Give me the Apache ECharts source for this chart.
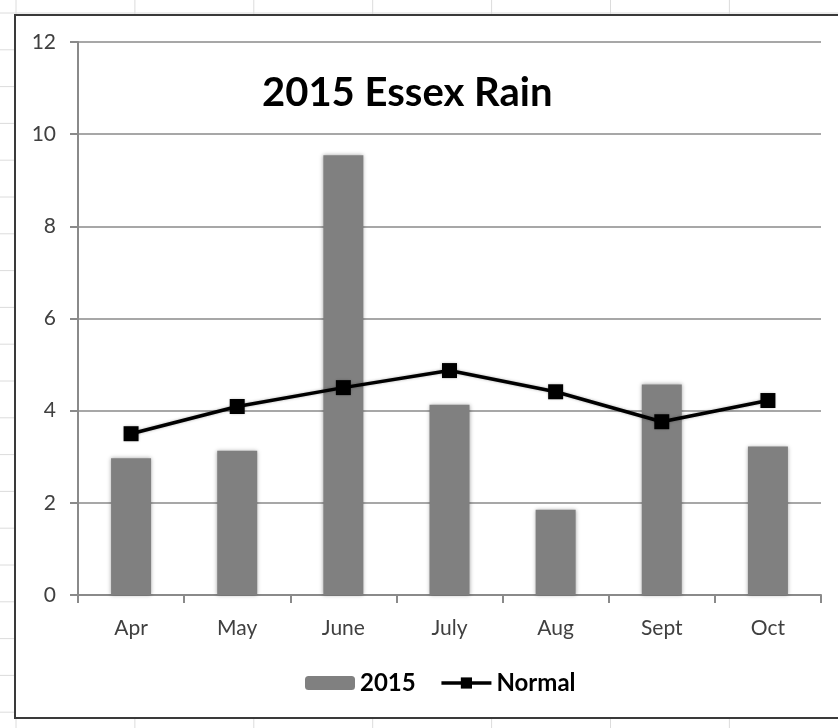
<!DOCTYPE html>
<html>
<head>
<meta charset="utf-8">
<style>
  html, body { margin: 0; padding: 0; background: #fff; }
  #chart { width: 838px; height: 728px; }
</style>
<script src="https://cdn.jsdelivr.net/npm/echarts@6/dist/echarts.min.js"></script>
</head>
<body>
<div id="chart"></div>
<script>
'use strict';

const months = ['Apr', 'May', 'June', 'July', 'Aug', 'Sept', 'Oct'];
const rain2015 = [2.97, 3.13, 9.54, 4.13, 1.85, 4.57, 3.22];
const rainNormal = [3.5, 4.09, 4.5, 4.87, 4.41, 3.76, 4.22];
const yTicks = { min: 0, max: 12, step: 2 };

const font = 'Lato, "Open Sans", sans-serif';

// spreadsheet cells behind the chart object
const sheetLines = [];
for (let x = 16; x < 838; x += 118.9) {
  sheetLines.push({
    type: 'line', silent: true, z: -10,
    shape: { x1: x, y1: 0, x2: x, y2: 728 },
    style: { stroke: '#dcdcdc', lineWidth: 1 },
  });
}
for (let y = 13; y < 728; y += 36.8) {
  sheetLines.push({
    type: 'line', silent: true, z: -10,
    shape: { x1: 0, y1: y, x2: 838, y2: y },
    style: { stroke: '#dcdcdc', lineWidth: 1 },
  });
}

const chart = echarts.init(document.getElementById('chart'));

chart.setOption({
  backgroundColor: '#fff',
  animation: false,
  graphic: sheetLines.concat([
    {
      type: 'rect', silent: true, z: -5,
      shape: { x: 15, y: 15, width: 840, height: 703 },
      style: { fill: '#fff', stroke: '#3a3a3a', lineWidth: 2 },
    },
  ]),
  title: {
    text: '2015 Essex Rain',
    left: 257,
    top: 68,
    textStyle: { fontFamily: font, fontWeight: 'bold', fontSize: 40, color: '#000' },
  },
  legend: {
    top: 666,
    left: 300,
    itemWidth: 50,
    itemHeight: 14,
    itemGap: 24,
    textStyle: { fontFamily: font, fontWeight: 'bold', fontSize: 24, color: '#000' },
    data: [
      { name: '2015' },
      { name: 'Normal', lineStyle: { width: 3.5 } },
    ],
  },
  grid: { left: 78, right: 17, top: 42, bottom: 133 },
  xAxis: {
    type: 'category',
    data: months,
    boundaryGap: true,
    axisLine: { lineStyle: { color: '#8a8a8a', width: 2 } },
    axisTick: { show: true, length: 8, lineStyle: { color: '#8a8a8a', width: 2 } },
    axisLabel: { margin: 23, fontFamily: font, fontSize: 21, color: '#404040' },
  },
  yAxis: {
    type: 'value',
    min: yTicks.min,
    max: yTicks.max,
    interval: yTicks.step,
    axisLine: { show: true, lineStyle: { color: '#8a8a8a', width: 2 } },
    axisTick: { show: true, length: 8, lineStyle: { color: '#8a8a8a', width: 2 } },
    splitLine: { lineStyle: { color: '#8a8a8a', width: 1.5 } },
    axisLabel: { margin: 22, fontFamily: font, fontSize: 21, color: '#404040' },
  },
  series: [
    {
      name: '2015',
      type: 'bar',
      data: rain2015,
      barWidth: 40,
      itemStyle: {
        color: '#808080',
        shadowBlur: 4,
        shadowColor: 'rgba(0,0,0,0.35)',
      },
    },
    {
      name: 'Normal',
      type: 'line',
      data: rainNormal,
      symbol: 'rect',
      symbolSize: 15,
      lineStyle: { color: '#000', width: 3.5, shadowBlur: 3, shadowColor: 'rgba(0,0,0,0.3)' },
      itemStyle: { color: '#000', shadowBlur: 3, shadowColor: 'rgba(0,0,0,0.3)' },
    },
  ],
});
</script>
</body>
</html>
